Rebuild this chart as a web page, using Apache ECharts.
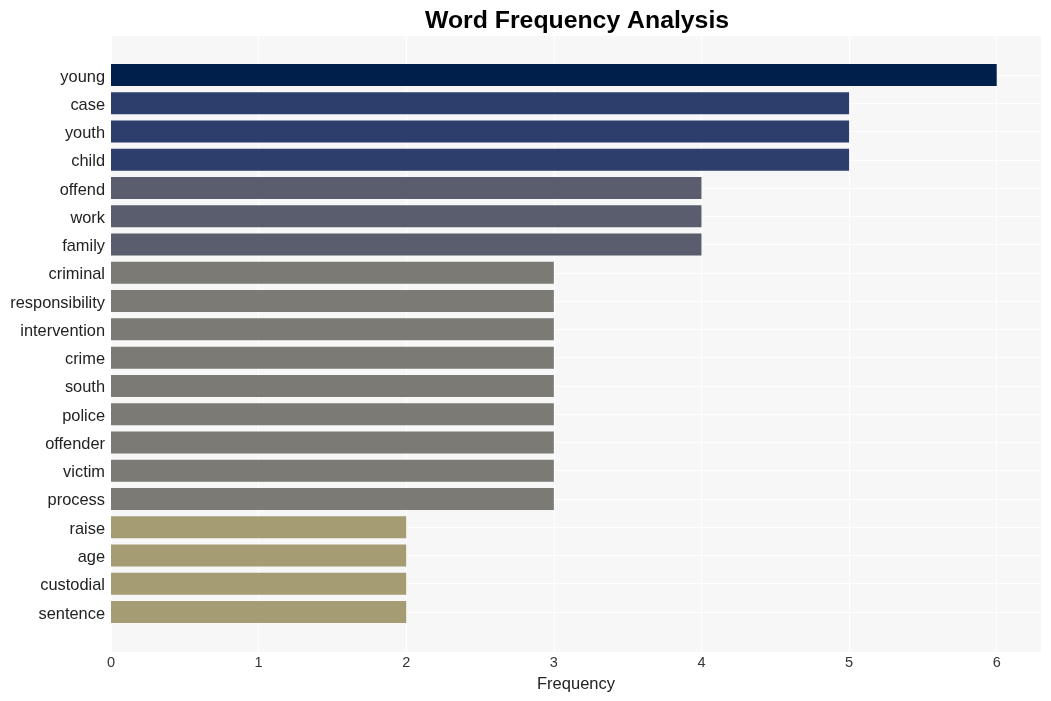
<!DOCTYPE html>
<html>
<head>
<meta charset="utf-8">
<script src="https://cdn.jsdelivr.net/npm/echarts@6/dist/echarts.min.js"></script>
<style>
html,body{margin:0;padding:0;background:#fff;}
#chart{width:1051px;height:701px;}
</style>
</head>
<body>
<div id="chart"></div>
<script>
var categories = ["young","case","youth","child","offend","work","family","criminal","responsibility","intervention","crime","south","police","offender","victim","process","raise","age","custodial","sentence"];
var frequencies = [6,5,5,5,4,4,4,3,3,3,3,3,3,3,3,3,2,2,2,2];
var xTicks = [0,1,2,3,4,5,6];

var palette = {6:"#00204c",5:"#2d3d6c",4:"#595d6d",3:"#7b7a75",2:"#a59c73"};
var FONT = "Liberation Sans, Arial, Helvetica, sans-serif";

var chart = echarts.init(document.getElementById('chart'), null, {renderer:'canvas'});
var option = {
  animation:false,
  backgroundColor:'#ffffff',
  title:{
    text:'Word Frequency Analysis',
    left:420, top:4,
    textStyle:{fontFamily:FONT,fontSize:24.8,fontWeight:'bold',color:'#000'}
  },
  grid:[
    {left:111, top:36, width:930, height:616, show:true, backgroundColor:'#f7f7f7', borderWidth:0, containLabel:false},
    {left:111, top:75, width:930, height:537, show:false, containLabel:false},
    {left:111, top:77, width:930, height:537, show:false, containLabel:false}
  ],
  xAxis:[
    {gridIndex:0, type:'value', min:xTicks[0], max:6.3, interval:1,
     axisLine:{show:false}, axisTick:{show:false},
     axisLabel:{show:true, showMaxLabel:false, margin:3, color:'#333', fontSize:14.5, fontFamily:FONT,
       formatter:function(v){return xTicks.indexOf(v)>=0 ? String(v) : '';}},
     splitLine:{show:true, lineStyle:{color:'#ffffff', width:1.2}},
     name:'Frequency', nameLocation:'middle', nameGap:24,
     nameTextStyle:{color:'#222', fontSize:16.5, fontFamily:FONT}},
    {gridIndex:1, type:'value', min:0, max:6.3, show:false},
    {gridIndex:2, type:'value', min:0, max:6.3, show:false}
  ],
  yAxis:[
    {gridIndex:0, type:'value', min:0, max:1, show:false},
    {gridIndex:1, type:'category', data:categories, inverse:true, boundaryGap:false,
     axisLine:{show:false}, axisTick:{show:false}, axisLabel:{show:false},
     splitLine:{show:true, lineStyle:{color:'#ffffff', width:1}}},
    {gridIndex:2, type:'category', data:categories, inverse:true, boundaryGap:false,
     axisLine:{show:false}, axisTick:{show:false}, splitLine:{show:false},
     axisLabel:{margin:6, color:'#222', fontSize:16.4, fontFamily:FONT, interval:0}}
  ],
  series:[{
    type:'bar', xAxisIndex:1, yAxisIndex:1, barWidth:22, clip:false,
    data: frequencies.map(function(v){return {value:v, itemStyle:{color:palette[v]}};})
  }]
};
chart.setOption(option);
</script>
</body>
</html>
